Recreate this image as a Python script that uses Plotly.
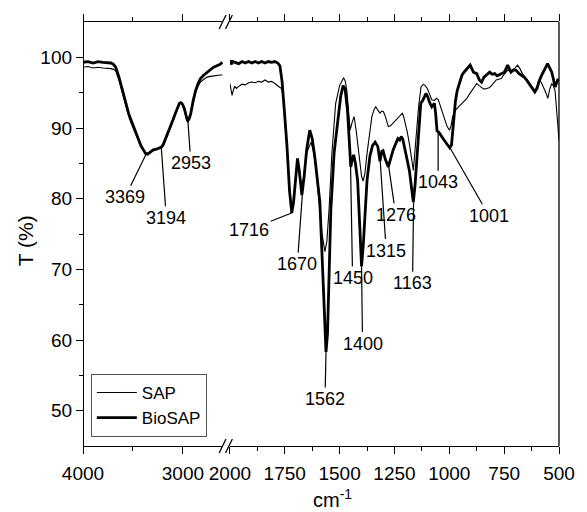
import plotly.graph_objects as go

# ---------------- data ----------------
wn_left = [4000, 3950, 3900, 3850, 3800, 3750, 3720, 3695, 3673, 3640, 3610, 3591, 3565, 3542, 3518,
           3493, 3468, 3444, 3420, 3395, 3375, 3353, 3325, 3297, 3265, 3232, 3215, 3199, 3175, 3150,
           3125, 3101, 3075, 3052, 3035, 3020, 3005, 2987, 2970, 2954, 2938, 2922, 2898, 2873, 2848,
           2824, 2790, 2758, 2725, 2693, 2660, 2627, 2605]
bio_left = [99.3, 99.4, 99.2, 99.4, 99.3, 99.3, 99.2, 99.0, 98.6, 97.2, 95.6, 94.4, 93.1, 92.0, 91.1,
            90.2, 89.2, 88.3, 87.5, 86.9, 86.4, 86.3, 86.6, 86.9, 87.0, 87.2, 87.3, 87.6, 88.4, 89.2,
            90.1, 91.1, 92.1, 93.0, 93.5, 93.6, 93.4, 92.8, 92.0, 91.0, 91.3, 92.0, 93.8, 95.3, 96.3,
            97.0, 97.5, 97.9, 98.3, 98.6, 98.8, 99.0, 99.3]
sap_left = [98.6, 98.7, 98.5, 98.6, 98.5, 98.5, 98.4, 98.3, 98.1, 96.8, 95.2, 94.0, 92.7, 91.6, 90.7,
            89.8, 88.9, 88.0, 87.3, 86.8, 86.5, 86.4, 86.6, 86.8, 87.0, 87.2, 87.3, 87.4, 88.2, 89.0,
            90.0, 91.0, 92.0, 93.0, 93.4, 93.5, 93.3, 92.6, 91.8, 90.8, 91.1, 92.0, 93.6, 95.0, 95.9,
            96.5, 96.9, 97.2, 97.3, 97.4, 97.5, 97.5, 97.5]

bio_right_pts = [
    (2000, 99.6), (1994, 99.0), (1988, 99.4), (1975, 99.3), (1960, 99.1), (1945, 99.4), (1930, 99.2),
    (1915, 99.4), (1900, 99.2), (1885, 99.4), (1870, 99.2), (1855, 99.4), (1840, 99.2), (1825, 99.4),
    (1810, 99.3), (1795, 99.4), (1782, 99.2), (1772, 98.8), (1762, 96.5), (1752, 92.5), (1740, 87.5),
    (1728, 81.0), (1718, 78.0), (1710, 79.5), (1700, 83.5), (1692, 85.7), (1684, 84.0), (1672, 80.5),
    (1662, 83.0), (1650, 87.0), (1636, 89.7), (1625, 88.5), (1613, 85.9), (1600, 82.5), (1590, 79.5),
    (1580, 72.0), (1570, 63.0), (1562, 58.3), (1555, 61.0), (1548, 68.0), (1540, 78.4), (1525, 86.5),
    (1509, 91.1), (1495, 94.5), (1484, 96.0), (1475, 95.5), (1464, 92.5), (1455, 87.0), (1449, 84.5),
    (1443, 85.5), (1436, 86.2), (1428, 85.0), (1418, 82.6), (1408, 76.0), (1400, 70.4), (1392, 73.5),
    (1385, 78.0), (1375, 82.6), (1362, 86.0), (1350, 87.5), (1338, 88.0), (1326, 87.4), (1316, 85.3),
    (1308, 86.7), (1302, 86.8), (1292, 85.6), (1278, 84.5), (1266, 85.8), (1256, 86.9), (1244, 87.8),
    (1234, 88.5), (1226, 88.3), (1219, 88.8), (1212, 88.4), (1204, 87.3), (1192, 85.6), (1182, 84.0),
    (1172, 81.5), (1164, 79.5), (1156, 82.0), (1148, 85.5), (1140, 89.5), (1130, 93.5), (1121, 93.9),
    (1106, 94.9), (1098, 94.4), (1091, 93.7), (1080, 93.0), (1068, 93.5), (1062, 92.0), (1056, 89.6),
    (1048, 89.4), (1038, 89.0), (1024, 88.3), (1010, 87.7), (998, 87.2), (990, 87.6), (980, 91.5),
    (972, 93.8), (964, 95.3), (952, 96.6), (942, 97.5), (930, 98.0), (920, 98.4), (905, 98.9),
    (890, 97.9), (875, 97.7), (863, 96.8), (853, 96.5), (842, 97.2), (830, 97.5), (816, 97.9),
    (805, 97.6), (793, 97.7), (782, 97.4), (771, 97.6), (760, 97.8), (749, 97.9), (734, 98.9),
    (726, 98.3), (719, 97.9), (708, 98.2), (696, 98.2), (682, 97.7), (670, 97.5), (659, 97.2),
    (648, 96.8), (637, 96.3), (625, 95.8), (610, 95.1), (600, 95.6), (592, 96.5), (580, 97.4),
    (570, 97.9), (560, 98.6), (552, 99.1), (543, 98.4), (533, 97.9), (526, 97.0), (518, 95.8),
    (512, 96.3), (506, 96.8), (500, 96.8)]

sap_right_pts = [
    (2000, 96.3), (1995, 95.4), (1990, 94.6), (1985, 95.3), (1978, 95.9), (1970, 95.6), (1960, 95.9),
    (1945, 96.2), (1930, 96.1), (1915, 96.4), (1900, 96.5), (1885, 96.4), (1870, 96.6), (1855, 96.5),
    (1840, 96.8), (1825, 96.5), (1810, 96.6), (1795, 96.3), (1785, 96.0), (1775, 95.8), (1765, 95.6),
    (1757, 94.5), (1750, 91.5), (1740, 87.0), (1728, 81.5), (1718, 78.6), (1710, 79.8), (1700, 83.0),
    (1692, 85.0), (1684, 83.8), (1672, 81.5), (1662, 83.5), (1650, 86.5), (1630, 88.0), (1618, 86.5),
    (1607, 84.0), (1592, 78.8), (1580, 75.0), (1567, 72.5), (1558, 74.0), (1548, 78.5), (1535, 86.5),
    (1518, 93.5), (1500, 96.0), (1482, 97.1), (1474, 96.6), (1467, 95.3), (1458, 91.5), (1452, 89.7),
    (1443, 90.8), (1434, 91.6), (1424, 89.5), (1412, 86.4), (1400, 83.2), (1393, 82.5), (1385, 83.5),
    (1375, 86.4), (1363, 89.5), (1353, 91.6), (1343, 92.6), (1335, 93.0), (1325, 92.5), (1316, 92.1),
    (1308, 92.4), (1300, 92.3), (1290, 91.5), (1278, 90.2), (1268, 90.3), (1256, 90.7), (1244, 91.0),
    (1234, 91.4), (1224, 91.7), (1214, 92.1), (1208, 91.6), (1204, 91.1), (1192, 89.5), (1182, 87.8),
    (1172, 85.5), (1164, 84.0), (1156, 87.0), (1148, 90.5), (1140, 93.0), (1129, 95.8), (1118, 96.2),
    (1110, 96.0), (1100, 95.6), (1090, 94.8), (1080, 94.0), (1068, 93.9), (1058, 94.2), (1050, 94.0),
    (1039, 93.0), (1024, 91.6), (1010, 90.2), (999, 89.7), (992, 90.3), (985, 91.6), (972, 92.5),
    (958, 93.0), (942, 93.5), (930, 93.8), (920, 94.2), (908, 94.8), (897, 95.3), (885, 95.9),
    (875, 96.3), (864, 96.0), (853, 95.7), (842, 95.5), (830, 95.6), (818, 95.7), (808, 96.0),
    (797, 96.4), (786, 96.8), (775, 96.9), (763, 97.0), (750, 97.6), (734, 98.2), (722, 98.0),
    (712, 98.2), (700, 98.5), (689, 98.9), (678, 98.4), (667, 97.7), (652, 97.1), (637, 96.5),
    (622, 95.9), (610, 95.3), (600, 95.9), (590, 96.8), (580, 96.4), (570, 95.8), (560, 95.0),
    (551, 94.2), (542, 95.5), (533, 96.3), (525, 95.9), (518, 95.3), (510, 92.5), (505, 90.5),
    (500, 88.3)]

wn_right_bio = [p[0] for p in bio_right_pts]
t_right_bio = [p[1] for p in bio_right_pts]
wn_right_sap = [p[0] for p in sap_right_pts]
t_right_sap = [p[1] for p in sap_right_pts]

# peak labels: (label, axis, wavenumber at leader, transmittance at leader)
peaks = [("3369", "x", 3369, 86.3), ("3194", "x", 3216, 87.2), ("2953", "x", 2950, 91.0),
         ("1716", "x2", 1716, 78.0), ("1670", "x2", 1670, 80.5), ("1562", "x2", 1562, 58.3),
         ("1450", "x2", 1450, 84.5), ("1400", "x2", 1400, 70.4), ("1315", "x2", 1315, 85.4),
         ("1276", "x2", 1276, 84.5), ("1163", "x2", 1163, 79.5), ("1043", "x2", 1051, 89.4),
         ("1001", "x2", 997, 87.2)]
# text offsets in pixels (layout)
offsets = {"3369": (-21, 43), "3194": (5, 70), "2953": (3, 42), "1716": (-43, 17),
           "1670": (-5, 69), "1562": (-1, 47), "1450": (2, 111), "1400": (1, 77),
           "1315": (6, 90), "1276": (7, 48), "1163": (-1, 81), "1043": (0, 50), "1001": (39, 68)}

FONT = "Liberation Sans, Arial, sans-serif"

fig = go.Figure()
fig.add_trace(go.Scatter(x=wn_left, y=sap_left, xaxis="x", yaxis="y", mode="lines",
                         line=dict(color="black", width=1.1), name="SAP", legendgroup="sap"))
fig.add_trace(go.Scatter(x=wn_right_sap, y=t_right_sap, xaxis="x2", yaxis="y", mode="lines",
                         line=dict(color="black", width=1.1), name="SAP", legendgroup="sap",
                         showlegend=False))
fig.add_trace(go.Scatter(x=wn_left, y=bio_left, xaxis="x", yaxis="y", mode="lines",
                         line=dict(color="black", width=2.8), name="BioSAP", legendgroup="bio"))
fig.add_trace(go.Scatter(x=wn_right_bio, y=t_right_bio, xaxis="x2", yaxis="y", mode="lines",
                         line=dict(color="black", width=2.8), name="BioSAP", legendgroup="bio",
                         showlegend=False))

W, H = 587, 512
ML, MR, MT, MB = 83, 18, 22, 66
PW, PH = W - ML - MR, H - MT - MB

def px(x):
    return (x - ML) / PW

def py(y):
    return (H - MB - y) / PH

left_end_px = 226
right_start_px = 233
left_range_end = 4000 - (left_end_px - ML) / 0.102

axis_common = dict(showline=True, linecolor="black", linewidth=1.3, ticks="outside",
                   ticklen=7, tickwidth=1.3, tickcolor="black", mirror="ticks",
                   showgrid=False, zeroline=False, ticklabelstandoff=3,
                   tickfont=dict(family=FONT, size=19, color="black"))

fig.update_layout(
    width=W, height=H,
    margin=dict(l=ML, r=MR, t=MT, b=MB),
    paper_bgcolor="white", plot_bgcolor="white",
    font=dict(family=FONT, color="black"),
    xaxis=dict(domain=[0, px(left_end_px)], range=[4000, left_range_end], anchor="y",
               tickvals=[4000, 3000], ticktext=["4000", "3000"],
               minor=dict(tickvals=[3500], ticklen=4, tickwidth=1.3, tickcolor="black", ticks="outside"),
               **axis_common),
    xaxis2=dict(domain=[px(right_start_px), 1], range=[2000, 500], anchor="y",
                tickvals=[2000, 1750, 1500, 1250, 1000, 750, 500],
                minor=dict(tickvals=[1875, 1625, 1375, 1125, 875, 625], ticklen=4, tickwidth=1.3,
                           tickcolor="black", ticks="outside"),
                **axis_common),
    yaxis=dict(range=[45, 105], anchor="free", position=0, showline=True, linecolor="black",
               linewidth=1.3, ticks="outside", ticklen=7, tickwidth=1.3, tickcolor="black",
               tickvals=[50, 60, 70, 80, 90, 100],
               minor=dict(tickvals=[55, 65, 75, 85, 95], ticklen=4, tickwidth=1.3,
                          tickcolor="black", ticks="outside"),
               showgrid=False, zeroline=False,
               tickfont=dict(family=FONT, size=19, color="black")),
    legend=dict(x=px(91), y=py(374), xanchor="left", yanchor="top",
                bordercolor="#555555", borderwidth=1, bgcolor="white",
                font=dict(family=FONT, size=17, color="black"), itemwidth=40,
                tracegroupgap=0),
    showlegend=True,
)

# right frame border and axis breaks
shapes = [dict(type="line", xref="paper", yref="paper", x0=1, x1=1, y0=0, y1=1,
               line=dict(color="black", width=1.3))]
dx = 3.5 / PW
dy = 7 / PH
for cx_px in (225.5, 232.0):
    cx = px(cx_px)
    for yb in (0, 1):
        shapes.append(dict(type="line", xref="paper", yref="paper",
                           x0=cx - dx, y0=yb - dy, x1=cx + dx, y1=yb + dy,
                           line=dict(color="black", width=1.3)))
fig.update_layout(shapes=shapes)

annotations = []
for label, ax_name, xv, yv in peaks:
    ox, oy = offsets[label]
    annotations.append(dict(text=label, x=xv, y=yv, xref=ax_name, yref="y",
                            showarrow=True, arrowhead=0, arrowwidth=1.2, arrowcolor="black",
                            ax=ox, ay=oy, standoff=0, borderpad=1,
                            font=dict(family=FONT, size=18, color="black")))
annotations.append(dict(text="cm<sup>-1</sup>", xref="paper", yref="paper", x=px(338), y=py(498),
                        xanchor="center", yanchor="middle",
                        showarrow=False, font=dict(family=FONT, size=20, color="black")))
annotations.append(dict(text="T (%)", xref="paper", yref="paper", x=px(24), y=py(241),
                        xanchor="center", yanchor="middle",
                        textangle=-90, showarrow=False,
                        font=dict(family=FONT, size=21, color="black")))
fig.update_layout(annotations=annotations)

fig.write_html("out.html")
